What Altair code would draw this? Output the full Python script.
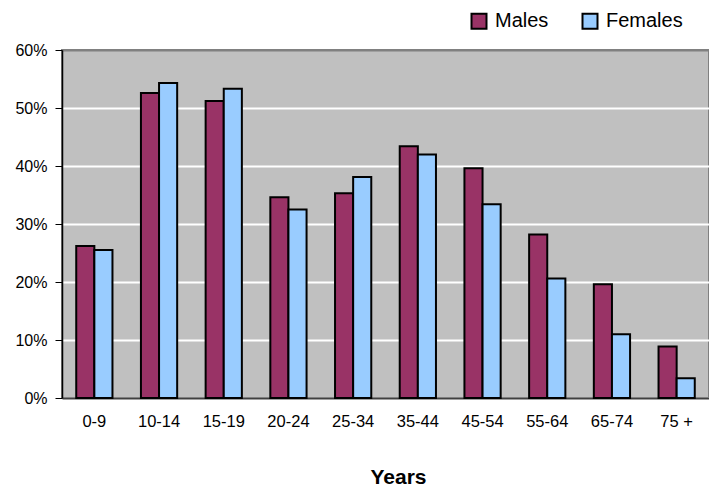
import altair as alt
import pandas as pd

categories = ["0-9", "10-14", "15-19", "20-24", "25-34", "35-44", "45-54", "55-64", "65-74", "75 +"]
males = [26.2, 52.6, 51.2, 34.6, 35.3, 43.4, 39.6, 28.2, 19.6, 8.9]
females = [25.5, 54.3, 53.3, 32.5, 38.1, 42.0, 33.4, 20.6, 11.0, 3.4]
series = ["Males", "Females"]
colors = ["#993366", "#99CCFF"]
y_ticks = [0, 0.1, 0.2, 0.3, 0.4, 0.5, 0.6]

rows = []
for c, m, f in zip(categories, males, females):
    rows.append({"age": c, "sex": "Males", "value": m / 100})
    rows.append({"age": c, "sex": "Females", "value": f / 100})
df = pd.DataFrame(rows)

FONT = "Liberation Sans"

chart = alt.Chart(df).mark_bar(stroke="black", strokeWidth=2).encode(
    x=alt.X("age:N", sort=categories,
            scale=alt.Scale(paddingInner=0.44, paddingOuter=0.22),
            axis=alt.Axis(title="Years", labelAngle=0, ticks=False, labelPadding=15,
                          labelFontSize=16.5, labelFont=FONT, labelColor="black",
                          domainColor="#404040", domainWidth=2,
                          titleFont=FONT, titleFontSize=21, titleFontWeight="bold",
                          titleColor="black", titleX=336, titleY=85,
                          titleBaseline="alphabetic")),
    xOffset=alt.XOffset("sex:N", sort=series),
    y=alt.Y("value:Q", scale=alt.Scale(domain=[0, 0.6], nice=False),
            axis=alt.Axis(title=None, format=".0%", values=y_ticks,
                          labelFontSize=16, labelFont=FONT, labelColor="black",
                          labelPadding=8, tickSize=7, tickColor="black",
                          domainColor="black", domainWidth=1.5,
                          gridColor=alt.condition("datum.value >= 0.6", alt.value("#808080"), alt.value("white")),
                          gridWidth=2)),
    fill=alt.Fill("sex:N", sort=series,
                  scale=alt.Scale(domain=series, range=colors),
                  legend=alt.Legend(title=None, orient="none", direction="horizontal",
                                    legendX=407, legendY=-39,
                                    symbolType="square", symbolSize=225,
                                    symbolStrokeColor="black", symbolStrokeWidth=2,
                                    labelFont=FONT, labelFontSize=20, labelColor="black",
                                    labelOffset=6, columnPadding=29)),
).properties(
    width=647, height=348,
    autosize=alt.AutoSizeParams(type="none"),
    padding={"left": 54, "top": 42, "right": 0, "bottom": 90},
    background="white",
).configure_view(
    fill="#C0C0C0", stroke="#808080", strokeWidth=2
)

chart.save("out.html", embed_options={"renderer": "svg", "actions": False})
